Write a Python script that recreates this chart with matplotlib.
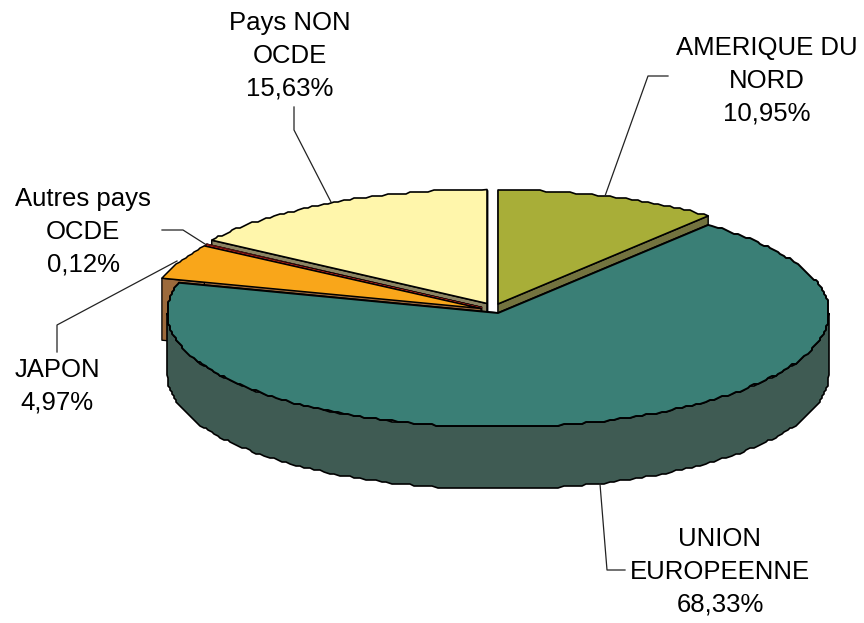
import matplotlib
matplotlib.use('Agg')
import matplotlib.pyplot as plt
import numpy as np

plt.rcParams['font.family'] = ['Liberation Sans', 'DejaVu Sans']

# parts du total, dans le sens horaire depuis midi
noms = ['AMERIQUE DU\nNORD', 'UNION\nEUROPEENNE', 'JAPON', 'Autres pays\nOCDE', 'Pays NON\nOCDE']
parts = [10.95, 68.33, 4.97, 0.12, 15.63]
etiquettes = ['10,95%', '68,33%', '4,97%', '0,12%', '15,63%']

couleurs = ['#A8AE38', '#3A7F76', '#F9A61A', '#EE2A24', '#FFF6AB']
couleurs_flanc = ['#73733F', '#3F5B53', '#9C6A3C', '#EE2A24', '#8B8462']
traits = [1.2, 1.4, 1.1, 0.4, 1.2]

# centre de chaque part eclatee
centres = [(498, 304), (498, 313), (481, 308.5), (482, 307), (487, 303.5)]
RX, RY = 331, 114
HAUT = 62

fig = plt.figure(figsize=(8.64, 6.23), dpi=100)
ax = fig.add_axes([0, 0, 1, 1])
ax.set_xlim(0, 864)
ax.set_ylim(623, 0)
ax.axis('off')

bornes = np.concatenate([[0], np.cumsum(parts)]) / 100 * 2 * np.pi


def arc(i, a0=None, a1=None):
    # contour en petits segments cales sur une grille, comme un trace vectoriel grossier
    cx, cy = centres[i]
    a0 = bornes[i] if a0 is None else a0
    a1 = bornes[i + 1] if a1 is None else a1
    n = max(2, int(np.degrees(a1 - a0)))
    t = np.linspace(a0, a1, n)
    x = cx + RX * np.sin(t)
    y = cy - RY * np.cos(t)
    x[1:-1] = np.round(x[1:-1] / 2) * 2
    y[1:-1] = np.round(y[1:-1] / 2) * 2
    return x, y


def part(i, z):
    cx, cy = centres[i]
    x, y = arc(i)
    lw = traits[i]
    # flancs des deux coupes
    for k in (0, -1):
        ax.fill([cx, x[k], x[k], cx], [cy, y[k], y[k] + HAUT, cy + HAUT],
                fc=couleurs_flanc[i], ec='black', lw=lw * 0.85, zorder=z, joinstyle='round')
    # flanc exterieur, seulement sur la moitie avant
    a0 = max(bornes[i], np.pi / 2)
    a1 = min(bornes[i + 1], 3 * np.pi / 2)
    if a1 > a0:
        xa, ya = arc(i, a0, a1)
        ax.fill(np.r_[xa, xa[::-1]], np.r_[ya, ya[::-1] + HAUT],
                fc=couleurs_flanc[i], ec='black', lw=lw * 0.85, zorder=z + 0.1)
    # dessus
    ax.fill(np.r_[cx, x], np.r_[cy, y], fc=couleurs[i], ec='black', lw=lw,
            zorder=z + 0.2, joinstyle='round')


# du fond vers l'avant
for i, z in zip([4, 0, 3, 2, 1], [2, 3, 4, 5, 6]):
    part(i, z)

# traits de rappel
rappels = [
    ([605, 648, 668], [196, 76, 76]),
    ([600, 607, 625], [484, 570, 570]),
    ([177, 57, 57], [261, 325, 352]),
    ([205, 183, 162], [244, 230, 230]),
    ([331, 294, 294], [202, 130, 107]),
]
for xs, ys in rappels:
    ax.plot(xs, ys, color='#222222', lw=0.9, zorder=8)

positions = [(767, 80.5), (720, 572), (57, 386), (83, 232), (290, 56)]
for nom, etiq, (x, y) in zip(noms, etiquettes, positions):
    ax.text(x, y, nom + '\n' + etiq, ha='center', va='center', fontsize=18.5,
            linespacing=1.47, color='black', zorder=9)

fig.savefig('out.png', dpi=100)
plt.close()
